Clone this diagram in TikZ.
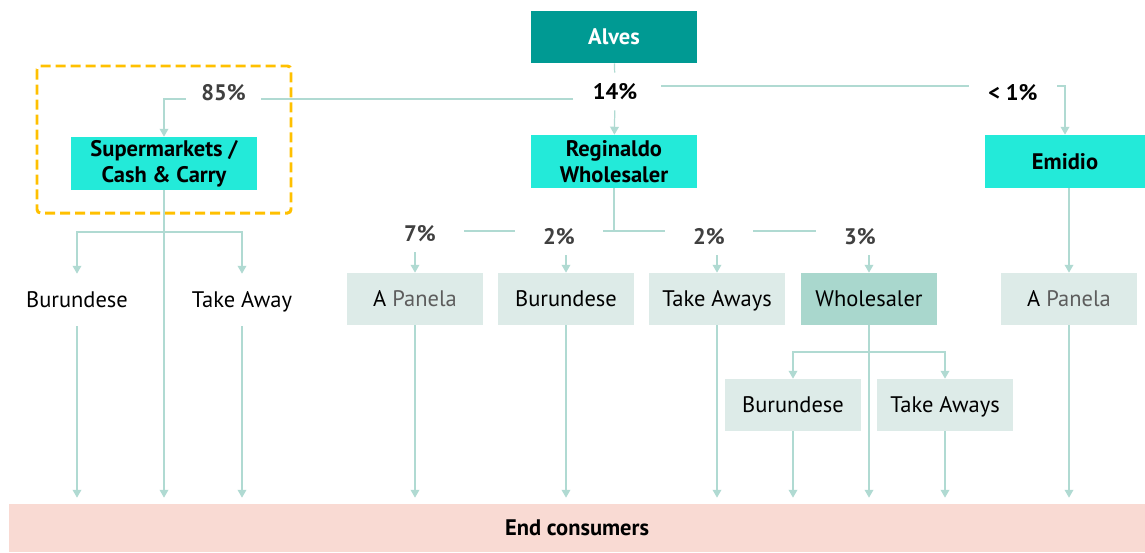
\documentclass[tikz,border=0pt]{standalone}
\usepackage{fontspec}
\setmainfont{PT Sans}
\usetikzlibrary{arrows.meta}

\definecolor{alvesteal}{HTML}{009A93}
\definecolor{turq}{HTML}{23EAD9}
\definecolor{palebox}{HTML}{DDEBE8}
\definecolor{midbox}{HTML}{A9D7CD}
\definecolor{linecol}{HTML}{B0DAD2}
\definecolor{endpink}{HTML}{F9DAD3}
\definecolor{pgray}{HTML}{404040}
\definecolor{dashgold}{HTML}{FFC000}

\begin{document}
\begin{tikzpicture}[x=0.02cm, y=-0.02cm,
    every node/.style={font=\fontsize{12.8}{14.6}\selectfont, inner sep=0pt, align=center},
    oneline/.style={text height=0.86em, text depth=0pt},
    topbox/.style={oneline, fill=alvesteal, text=white, font=\fontsize{12.8}{14.6}\selectfont\bfseries, minimum width=3.32cm, minimum height=1.04cm},
    mainbox/.style={fill=turq, font=\fontsize{12.8}{14.6}\selectfont\bfseries, minimum height=1.06cm},
    subbox/.style={oneline, fill=palebox, minimum width=2.72cm, minimum height=1.04cm},
    plain/.style={oneline, minimum width=2.72cm, minimum height=1.04cm},
    pct/.style={oneline, font=\fontsize{12.8}{14.6}\selectfont\bfseries, text=pgray, minimum width=1.76cm, minimum height=0.72cm},
    link/.style={draw=linecol, line width=0.7pt},
    arrow/.style={link, -{Triangle[width=5pt,length=4.5pt]}},
    down/.style={arrow, shorten >=0.12cm}]

    \useasboundingbox (0,0) rectangle (1145,552);

    % Nodes
    \node[topbox] (alves) at (614,37) {Alves};
    \node[pct, text=black, minimum height=0.74cm] (p14) at (615,91.5) {14\%};
    \node[pct, minimum width=1.5cm] (p85) at (223.5,93) {85\%};
    \node[pct, text=black] (p1) at (1013,93) {<\ 1\%};

    \node[mainbox, minimum width=3.72cm] (super) at (164,163.5) {Supermarkets /\\Cash \& Carry};
    \node[mainbox, minimum width=3.32cm] (regin) at (614,161.5) {Reginaldo\\Wholesaler};
    \node[mainbox, oneline, minimum width=3.2cm] (emidio) at (1065,161.5) {Emidio};

    \node[plain] (bur1) at (77,300) {Burundese};
    \node[plain] (take1) at (242,300) {Take Away};

    \node[pct] (p7) at (420,234) {7\%};
    \node[pct] (p2a) at (559,237) {2\%};
    \node[pct] (p2b) at (709,237) {2\%};
    \node[pct] (p3) at (860,237) {3\%};

    \node[subbox] (ap1) at (415,299) {A \textcolor{pgray!85}{Panela}};
    \node[subbox] (bur2) at (566,299) {Burundese};
    \node[subbox] (take2) at (717,299) {Take Aways};
    \node[subbox, fill=midbox] (whole) at (869,299) {Wholesaler};
    \node[subbox] (ap2) at (1069,299) {A \textcolor{pgray!85}{Panela}};

    \node[subbox] (bur3) at (793,405) {Burundese};
    \node[subbox] (take3) at (945,405) {Take Aways};

    \node[oneline, fill=endpink, font=\fontsize{12.8}{14.6}\selectfont\bfseries, minimum width=22.72cm, minimum height=0.96cm] (endc) at (577,528) {End consumers};

    \draw[dashgold, line width=1.7pt, dash pattern=on 0.2cm off 0.1cm, rounded corners=2pt] (37,66) rectangle (291,213);

    % Coordinates
    \coordinate (l14) at (573,99);
    \coordinate (r14) at (661,86);
    \coordinate (sb) at (164,232);
    \coordinate (rb) at (614,231);
    \coordinate (wb) at (869,352);

    % Edges
    \draw[link] (alves) -- (p14);
    \draw[arrow] (p14) -- (regin);
    \draw[link] (l14) -- (p85.east |- l14);
    \draw[arrow] (p85.west |- l14) -| (super);
    \draw[link] (r14) -- (p1.west |- r14);
    \draw[arrow] (p1.east |- r14) -| (emidio);

    \draw[down] (super) -- (super |- endc.north);
    \draw[arrow] (sb) -| (bur1);
    \draw[arrow] (sb) -| (take1);
    \draw[down] (bur1) -- (bur1 |- endc.north);
    \draw[down] (take1) -- (take1 |- endc.north);

    \draw[link] (regin) -- (rb);
    \draw[link] (p7.east |- rb) -- (p2a.west |- rb);
    \draw[link] (p2a.east |- rb) -- (p2b.west |- rb);
    \draw[link] (p2b.east |- rb) -- (p3.west |- rb);
    \draw[arrow] (p7.south -| ap1) -- (ap1);
    \draw[arrow] (p2a.south -| bur2) -- (bur2);
    \draw[arrow] (p2b.south -| take2) -- (take2);
    \draw[arrow] (p3.south -| whole) -- (whole);
    \draw[arrow] (emidio.south -| ap2) -- (ap2);

    \draw[down] (ap1) -- (ap1 |- endc.north);
    \draw[down] (bur2) -- (bur2 |- endc.north);
    \draw[down] (take2) -- (take2 |- endc.north);
    \draw[down] (whole) -- (whole |- endc.north);
    \draw[down] (ap2) -- (ap2 |- endc.north);

    \draw[arrow] (wb) -| (bur3);
    \draw[arrow] (wb) -| (take3);
    \draw[down] (bur3) -- (bur3 |- endc.north);
    \draw[down] (take3) -- (take3 |- endc.north);
\end{tikzpicture}
\end{document}
